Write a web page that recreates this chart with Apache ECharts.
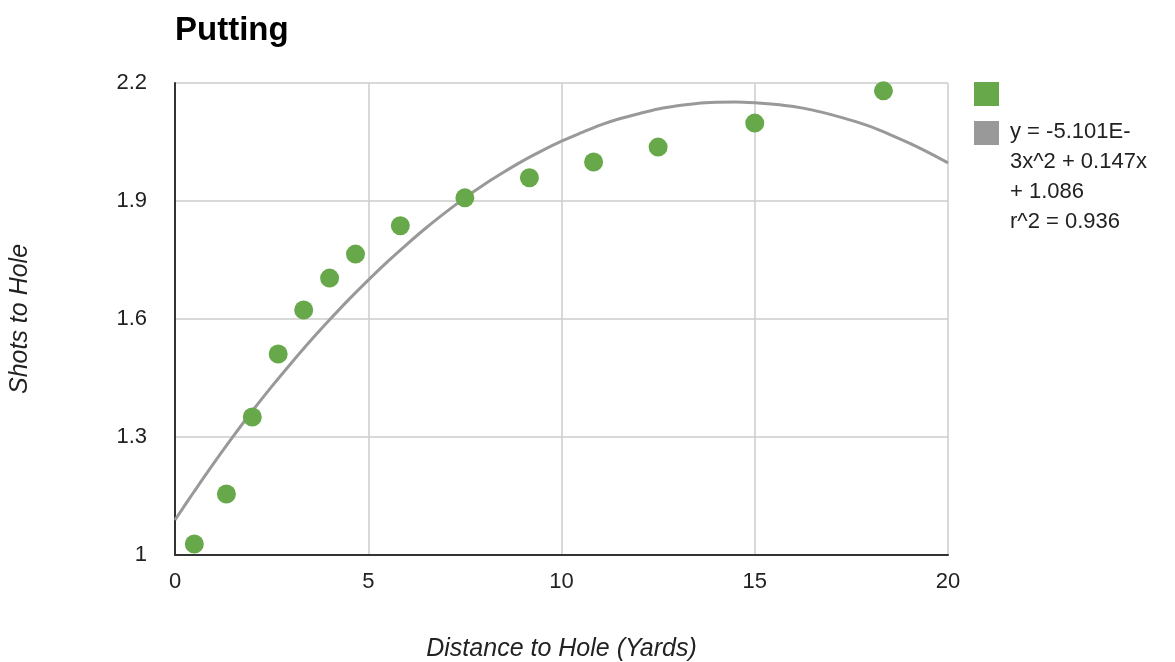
<!DOCTYPE html>
<html>
<head>
<meta charset="utf-8">
<script src="https://cdn.jsdelivr.net/npm/echarts@6/dist/echarts.min.js"></script>
<style>html,body{margin:0;padding:0;background:#fff}#c{width:1175px;height:662px}</style>
</head>
<body>
<div id="c"></div>
<script>
// Data
const distances = [0.5, 1.33, 2, 2.67, 3.33, 4, 4.67, 5.83, 7.5, 9.17, 10.83, 12.5, 15, 18.33];
const shots = [1.028, 1.155, 1.351, 1.511, 1.623, 1.704, 1.765, 1.837, 1.908, 1.959, 1.999, 2.037, 2.098, 2.180];
const trendX = [0, 0.5, 1, 1.5, 2, 2.5, 3, 3.5, 4, 4.5, 5, 5.5, 6, 6.5, 7, 7.5, 8, 8.5, 9, 9.5, 10,
  10.5, 11, 11.5, 12, 12.5, 13, 13.5, 14, 14.5, 15, 15.5, 16, 16.5, 17, 17.5, 18, 18.5, 19, 19.5, 20];
const trendY = [1.089, 1.162, 1.233, 1.301, 1.366, 1.428, 1.487, 1.544, 1.598, 1.650, 1.699, 1.746, 1.790,
  1.832, 1.871, 1.908, 1.942, 1.973, 2.002, 2.028, 2.052, 2.073, 2.093, 2.109, 2.122, 2.134, 2.142,
  2.148, 2.151, 2.152, 2.150, 2.146, 2.140, 2.131, 2.119, 2.105, 2.089, 2.069, 2.047, 2.023, 1.997];
const xTicks = [0, 5, 10, 15, 20];
const yTicks = [1, 1.3, 1.6, 1.9, 2.2];
const title = 'Putting';
const xName = 'Distance to Hole (Yards)';
const yName = 'Shots to Hole';
const trendLabel = ['y = -5.101E-', '3x^2 + 0.147x', '+ 1.086', 'r^2 = 0.936'];

const FONT = 'Liberation Sans, Arial, sans-serif';
const chart = echarts.init(document.getElementById('c'));
chart.setOption({
  animation: false,
  backgroundColor: '#fff',
  title: {
    text: title, left: 170, top: 9,
    textStyle: { fontFamily: FONT, fontSize: 33, fontWeight: 'bold', color: '#000' }
  },
  grid: { left: 175, top: 83, right: 227, bottom: 107, containLabel: false, outerBoundsMode: 'none', show: false },
  xAxis: {
    type: 'value', min: xTicks[0], max: xTicks[xTicks.length - 1], interval: 5,
    name: xName, nameLocation: 'middle', nameGap: 82,
    nameTextStyle: { fontFamily: FONT, fontSize: 25, fontStyle: 'italic', color: '#222' },
    axisLine: { show: true, onZero: false, lineStyle: { color: '#333', width: 2 } },
    axisTick: { show: false },
    axisLabel: { fontFamily: FONT, fontSize: 22, color: '#222', margin: 16 },
    splitLine: { show: true, lineStyle: { color: '#ccc', width: 1.5 } }
  },
  yAxis: {
    type: 'value', min: yTicks[0], max: yTicks[yTicks.length - 1], interval: 0.3,
    name: yName, nameLocation: 'middle', nameGap: 142, nameRotate: 90,
    nameTextStyle: { fontFamily: FONT, fontSize: 25, fontStyle: 'italic', color: '#222' },
    axisLine: { show: true, onZero: false, lineStyle: { color: '#333', width: 2 } },
    axisTick: { show: false },
    axisLabel: { fontFamily: FONT, fontSize: 22, color: '#222', margin: 28,
      formatter: v => String(Math.round(v * 10) / 10) },
    splitLine: { show: true, lineStyle: { color: '#ccc', width: 1.5 } }
  },
  series: [
    {
      name: trendLabel.join(' '), type: 'line', smooth: 0.3, showSymbol: false,
      data: trendX.map((x, i) => [x, trendY[i]]),
      lineStyle: { color: '#999', width: 3 }, itemStyle: { color: '#999' }, z: 2
    },
    {
      name: 'Shots', type: 'scatter', symbolSize: 19,
      data: distances.map((x, i) => [x, shots[i]]),
      itemStyle: { color: '#67a94a', opacity: 1 }, z: 3
    }
  ],
  graphic: [
    { type: 'rect', left: 974, top: 82, shape: { width: 25, height: 24 }, style: { fill: '#67a94a' } },
    { type: 'rect', left: 974, top: 121, shape: { width: 25, height: 24 }, style: { fill: '#999' } },
    { type: 'text', left: 1010, top: 117,
      style: { text: trendLabel.join('\n'), font: '22px ' + FONT, fill: '#222', lineHeight: 30 } }
  ]
});
</script>
</body>
</html>
